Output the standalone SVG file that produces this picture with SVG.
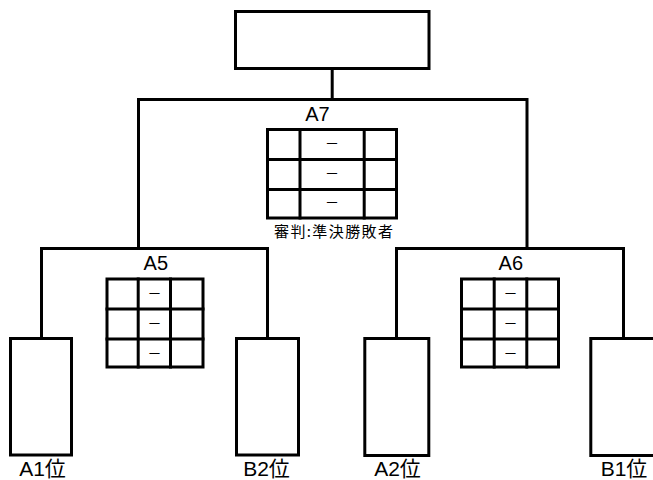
<svg xmlns="http://www.w3.org/2000/svg" width="653" height="480" viewBox="0 0 653 480">
<style>
  .ln{fill:none;stroke:#000;stroke-width:3;stroke-linejoin:miter;stroke-linecap:square}
  .box{fill:#fff;stroke:#000;stroke-width:3}
  .lab{font-family:"Liberation Sans","Noto Sans CJK JP",sans-serif;font-size:20px;fill:#000;text-anchor:middle}
  .bot{font-family:"Liberation Sans","Noto Sans CJK JP",sans-serif;font-size:21px;fill:#000;text-anchor:middle}
  .dash{font-family:"Noto Sans CJK JP",sans-serif;font-size:14px;fill:#000;text-anchor:middle}
  .ref{font-family:"Noto Sans CJK JP",sans-serif;font-size:15px;fill:#000}
</style>
<rect width="653" height="480" fill="#fff"/>
<g id="connectors">
  <path class="ln" d="M332.2 68.5 V99.5"/>
  <path class="ln" d="M138.5 248.5 V99.5 H527 V248.5"/>
  <path class="ln" d="M41.5 338.5 V248.5 H267.5 V338.5"/>
  <path class="ln" d="M396.5 338.5 V248.5 H623.5 V338.5"/>
</g>
<g id="final">
  <rect class="box" x="235.5" y="11.5" width="193.5" height="57"/>
</g>
<g id="A7">
  <text class="lab" x="317.5" y="120.5">A7</text>
  <rect class="box" x="267.5" y="129.5" width="129" height="88.5"/>
  <path class="ln" d="M300 129.5 V218 M364.2 129.5 V218 M267.5 159.5 H396.5 M267.5 189.5 H396.5"/>
  <text class="dash" x="332" y="147.7">－</text>
  <text class="dash" x="332" y="177.7">－</text>
  <text class="dash" x="332" y="206.7">－</text>
  <text class="ref" x="274" y="237" textLength="119" lengthAdjust="spacing">審判:準決勝敗者</text>
</g>
<g id="A5">
  <text class="lab" x="155.8" y="270">A5</text>
  <rect class="box" x="107" y="279" width="96" height="88"/>
  <path class="ln" d="M138.2 279 V367 M170.5 279 V367 M107 309 H203 M107 339 H203"/>
  <text class="dash" x="154.4" y="298.3">－</text>
  <text class="dash" x="154.4" y="328.3">－</text>
  <text class="dash" x="154.4" y="358.3">－</text>
</g>
<g id="A6">
  <text class="lab" x="510.8" y="270">A6</text>
  <rect class="box" x="461.5" y="279" width="97" height="88"/>
  <path class="ln" d="M494.2 279 V367 M526.8 279 V367 M461.5 309 H558.5 M461.5 339 H558.5"/>
  <text class="dash" x="510.5" y="298.3">－</text>
  <text class="dash" x="510.5" y="328.3">－</text>
  <text class="dash" x="510.5" y="358.3">－</text>
</g>
<g id="A1">
  <rect class="box" x="10.5" y="338.5" width="61" height="116.5"/>
  <text class="bot" x="42.5" y="476">A1位</text>
</g>
<g id="B2">
  <rect class="box" x="236.5" y="338.5" width="62" height="116.5"/>
  <text class="bot" x="266.5" y="476">B2位</text>
</g>
<g id="A2">
  <rect class="box" x="364.8" y="338.5" width="64" height="117"/>
  <text class="bot" x="397.5" y="476">A2位</text>
</g>
<g id="B1">
  <rect class="box" x="590.8" y="338.5" width="66" height="117"/>
  <text class="bot" x="624" y="476">B1位</text>
</g>
</svg>
